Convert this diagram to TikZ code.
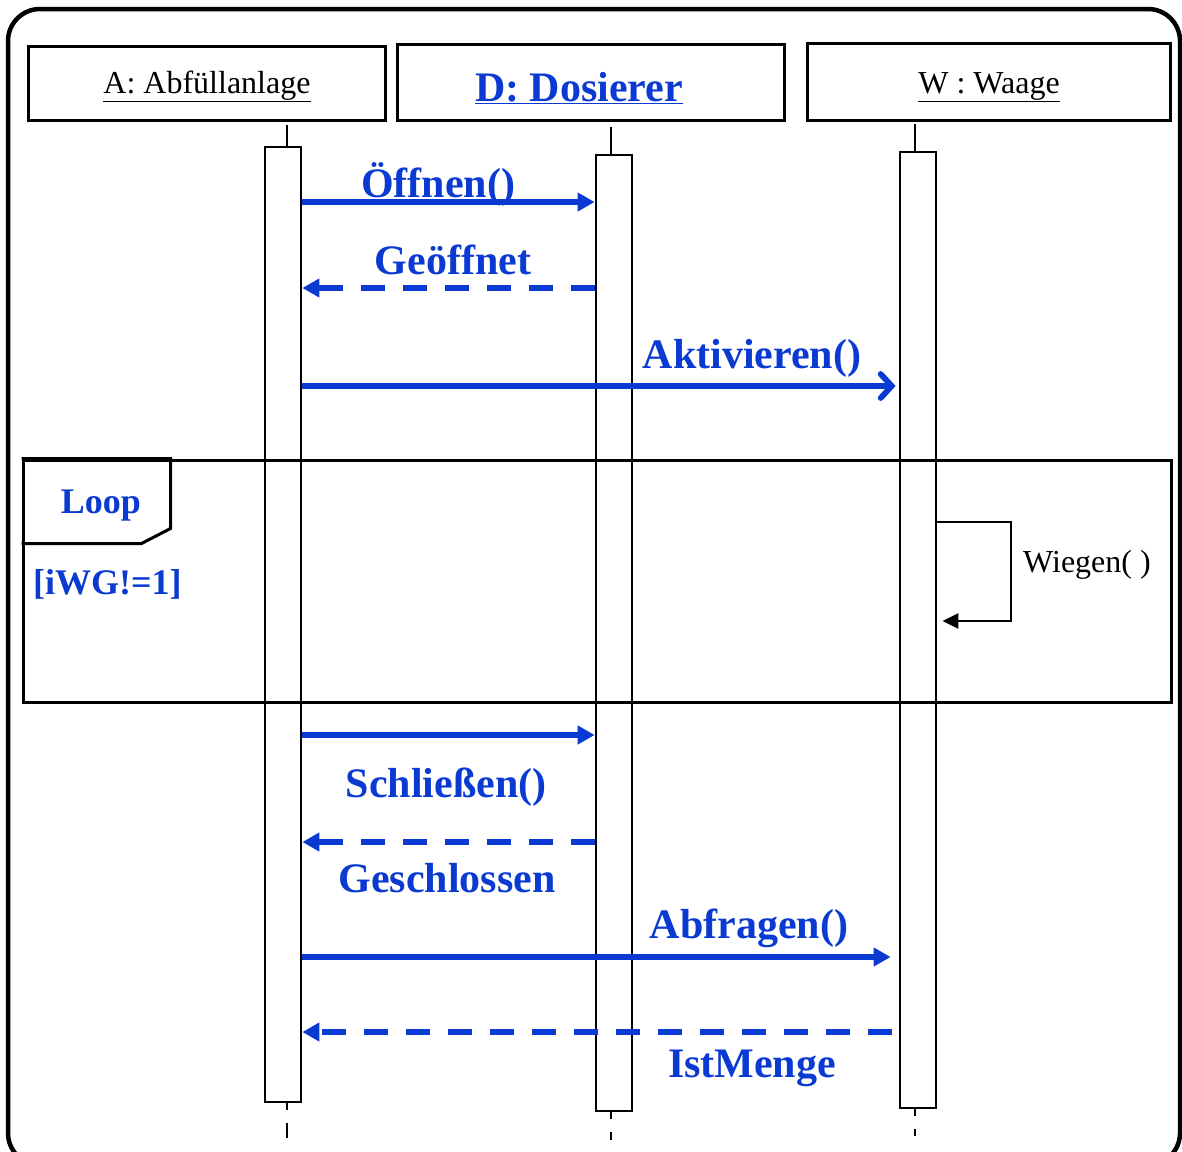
\documentclass[tikz,border=0pt]{standalone}
\usepackage{fontspec}
\setmainfont{Liberation Serif}
\usetikzlibrary{arrows.meta}
\definecolor{umlblue}{RGB}{10,58,210}

\begin{document}
\begin{tikzpicture}[x=1pt,y=-1pt,
  headbox/.style={draw, line width=3pt, inner sep=0pt},
  bar/.style={draw, line width=2.8pt, inner sep=0pt, minimum width=36pt},
  life/.style={line width=2.8pt},
  msg/.style={draw=umlblue, line width=5.8pt, -{Triangle[length=17pt,width=18pt]}},
  reply/.style={msg, dash pattern=on 24pt off 18pt},
  msglabel/.style={text=umlblue, font=\fontsize{42}{48}\selectfont\bfseries, anchor=base, inner sep=0pt},
  headlabel/.style={font=\fontsize{32}{38}\selectfont, anchor=base, inner sep=0pt},
  frame/.style={draw, line width=3pt},
]
\useasboundingbox (0,0) rectangle (1182,1151);
\clip (0,0) rectangle (1182,1151);

% outer rounded border
\draw[line width=4.5pt, rounded corners=32pt] (8,9) rectangle (1180,1165);

% lifeline heads
\node[headbox, minimum width=357pt, minimum height=74pt] (headA) at (206.5,83) {};
\node[headbox, minimum width=387pt, minimum height=76pt] (headD) at (590.5,82) {};
\node[headbox, minimum width=363pt, minimum height=77pt] (headW) at (988.5,81.5) {};
\node[headlabel] (tA) at (207,93) {\underline{A: Abfüllanlage}};
\node[headlabel, text=umlblue, font=\fontsize{42}{48}\selectfont\bfseries] (tD) at (579,101) {\underline{D: Dosierer}};
\node[headlabel] (tW) at (989,93) {\underline{W : Waage}};

% activation bars
\node[bar, minimum height=955pt] (barA) at (283,624.5) {};
\node[bar, minimum height=956pt] (barD) at (614,633) {};
\node[bar, minimum height=956pt] (barW) at (918,630) {};

% lifeline stubs above and below the bars
\draw[life] (287,125) -- (barA.north -| 287,0);
\draw[life] (611,127) -- (barD.north -| 611,0);
\draw[life] (915,124) -- (barW.north -| 915,0);
\draw[life, dash pattern=on 7pt off 13pt on 16pt off 99pt] (barA.south -| 287,0) -- (287,1138);
\draw[life, dash pattern=on 7pt off 13pt on 16pt off 99pt] (barD.south -| 611,0) -- (611,1140);
\draw[life, dash pattern=on 7pt off 13pt on 16pt off 99pt] (barW.south -| 915,0) -- (915,1136);

% combined fragment
\node[frame, minimum width=1148pt, minimum height=242pt, inner sep=0pt] (loop) at (597,581) {};
\draw[frame] (loop.north west) -- ++(149,0) -- ++(0,70) -- ++(-29,15) -- ++(-120,0);
\node[msglabel, font=\fontsize{36}{42}\selectfont\bfseries] (loopname) at (101,513) {Loop};
\node[msglabel, font=\fontsize{36}{42}\selectfont\bfseries, anchor=base west] (guard) at (33,594) {[iWG!=1]};

% messages
\draw[msg] (barA.east |- 0,202) -- (barD.west |- 0,202);
\node[msglabel] (l1) at (438,197) {Öffnen()};

\draw[reply] (barD.west |- 0,288) -- (barA.east |- 0,288);
\node[msglabel] (l2) at (453,274) {Geöffnet};

\draw[draw=umlblue, line width=5.8pt, -{Straight Barb[length=11pt,width=24pt,line cap=round]}]
  (barA.east |- 0,386) -- ([xshift=-3pt]barW.west |- 0,386);
\node[msglabel] (l3) at (752,368) {Aktivieren()};

% self call inside the loop
\coordinate (s1) at (1011,522);
\coordinate (s2) at (1011,621);
\draw[line width=2.8pt, -{Triangle[length=16pt,width=15pt]}]
  (barW.east |- s1) -- (s1) -- (s2) -- ([xshift=5pt]barW.east |- s2);
\node[headlabel, anchor=base west] (l4) at (1023,572) {Wiegen( )};

\draw[msg] (barA.east |- 0,735) -- (barD.west |- 0,735);
\node[msglabel] (l5) at (446,797) {Schließen()};

\draw[reply] (barD.west |- 0,842) -- (barA.east |- 0,842);
\node[msglabel] (l6) at (447,892) {Geschlossen};

\draw[msg] (barA.east |- 0,957) -- ([xshift=-8pt]barW.west |- 0,957);
\node[msglabel] (l7) at (749,938) {Abfragen()};

\draw[reply] ([xshift=-7pt]barW.west |- 0,1032) -- (barA.east |- 0,1032);
\node[msglabel] (l8) at (752,1077) {IstMenge};
\end{tikzpicture}
\end{document}
